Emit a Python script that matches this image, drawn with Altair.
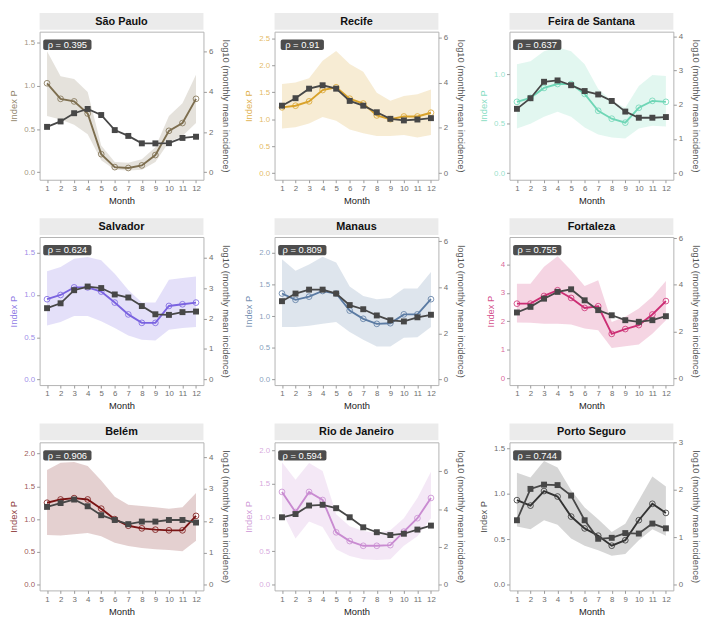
import altair as alt
import pandas as pd

MONTHS = list(range(1, 13))
CITIES = ["São Paulo", "Recife", "Feira de Santana", "Salvador", "Manaus",
          "Fortaleza", "Belém", "Rio de Janeiro", "Porto Seguro"]
RHO = ["ρ = 0.395", "ρ = 0.91", "ρ = 0.637", "ρ = 0.624", "ρ = 0.809",
       "ρ = 0.755", "ρ = 0.906", "ρ = 0.594", "ρ = 0.744"]
COLORS = ["#7d6e4f", "#d9a22a", "#6fd6b6", "#7a63e0", "#5b7ba3",
          "#cc2e74", "#7a1414", "#c98bd1", "#333333"]

# Index P (points), uncertainty band (lo/hi) and log10 monthly mean incidence
SAO_PAULO_P = [1.03, 0.85, 0.82, 0.68, 0.21, 0.06, 0.05, 0.08, 0.20, 0.48, 0.57, 0.85]
SAO_PAULO_LO = [0.65, 0.61, 0.55, 0.44, 0.14, 0.03, 0.02, 0.03, 0.12, 0.35, 0.42, 0.57]
SAO_PAULO_HI = [1.40, 1.11, 1.08, 0.93, 0.31, 0.12, 0.11, 0.15, 0.29, 0.65, 0.80, 1.13]
SAO_PAULO_INC = [2.26, 2.53, 2.94, 3.15, 2.85, 2.10, 1.81, 1.44, 1.44, 1.45, 1.71, 1.77]

RECIFE_P = [1.22, 1.25, 1.33, 1.54, 1.59, 1.38, 1.29, 1.07, 1.00, 1.05, 1.05, 1.12]
RECIFE_LO = [0.83, 0.85, 0.92, 1.04, 0.97, 0.81, 0.74, 0.69, 0.69, 0.71, 0.66, 0.71]
RECIFE_HI = [1.65, 1.68, 1.76, 2.08, 2.26, 2.02, 1.88, 1.49, 1.34, 1.43, 1.46, 1.55]
RECIFE_INC = [2.98, 3.31, 3.73, 3.88, 3.73, 3.19, 2.98, 2.69, 2.40, 2.33, 2.37, 2.43]

FEIRA_P = [0.72, 0.76, 0.86, 0.90, 0.90, 0.80, 0.63, 0.55, 0.51, 0.66, 0.73, 0.72]
FEIRA_LO = [0.45, 0.50, 0.57, 0.62, 0.57, 0.46, 0.39, 0.36, 0.35, 0.45, 0.48, 0.47]
FEIRA_HI = [1.10, 1.13, 1.23, 1.27, 1.23, 1.10, 0.85, 0.73, 0.66, 0.88, 0.99, 0.98]
FEIRA_INC = [1.88, 2.19, 2.67, 2.71, 2.57, 2.40, 2.30, 2.11, 1.80, 1.62, 1.62, 1.64]

SALVADOR_P = [0.95, 1.00, 1.09, 1.09, 1.04, 0.91, 0.77, 0.67, 0.67, 0.87, 0.89, 0.91]
SALVADOR_LO = [0.64, 0.68, 0.75, 0.75, 0.69, 0.61, 0.52, 0.47, 0.46, 0.59, 0.61, 0.62]
SALVADOR_HI = [1.28, 1.33, 1.43, 1.45, 1.41, 1.25, 1.06, 0.91, 0.91, 1.18, 1.20, 1.22]
SALVADOR_INC = [2.34, 2.50, 2.93, 3.05, 3.00, 2.79, 2.69, 2.41, 2.14, 2.12, 2.21, 2.23]

MANAUS_P = [1.36, 1.26, 1.31, 1.40, 1.36, 1.09, 0.96, 0.88, 0.89, 1.03, 1.03, 1.27]
MANAUS_LO = [0.83, 0.83, 0.85, 0.88, 0.91, 0.75, 0.63, 0.52, 0.52, 0.66, 0.67, 0.83]
MANAUS_HI = [1.90, 1.72, 1.82, 1.94, 1.85, 1.47, 1.32, 1.27, 1.29, 1.44, 1.44, 1.70]
MANAUS_INC = [3.40, 3.73, 3.90, 3.90, 3.73, 3.23, 3.05, 2.78, 2.57, 2.52, 2.70, 2.81]

FORTALEZA_P = [2.62, 2.62, 2.89, 3.09, 2.82, 2.47, 2.53, 1.56, 1.73, 1.87, 2.24, 2.71]
FORTALEZA_LO = [1.96, 1.95, 1.92, 1.92, 1.89, 1.75, 1.69, 1.07, 1.13, 1.19, 1.57, 2.04]
FORTALEZA_HI = [3.32, 3.32, 3.91, 4.28, 3.79, 3.24, 3.44, 1.98, 2.16, 2.45, 2.86, 3.41]
FORTALEZA_INC = [2.82, 3.06, 3.41, 3.70, 3.81, 3.34, 2.92, 2.70, 2.49, 2.42, 2.49, 2.66]

BELEM_P = [1.25, 1.30, 1.32, 1.30, 1.16, 1.00, 0.90, 0.86, 0.84, 0.83, 0.83, 1.05]
BELEM_LO = [0.76, 0.75, 0.77, 0.79, 0.74, 0.64, 0.59, 0.56, 0.54, 0.53, 0.51, 0.67]
BELEM_HI = [1.75, 1.86, 1.87, 1.81, 1.59, 1.34, 1.22, 1.20, 1.18, 1.16, 1.18, 1.40]
BELEM_INC = [2.44, 2.56, 2.67, 2.46, 2.18, 2.03, 1.90, 1.98, 1.98, 2.03, 2.03, 1.95]

RIO_P = [1.38, 1.08, 1.38, 1.26, 0.78, 0.65, 0.58, 0.58, 0.59, 0.79, 0.99, 1.29]
RIO_LO = [1.09, 0.69, 0.94, 0.86, 0.53, 0.43, 0.38, 0.37, 0.38, 0.58, 0.72, 0.99]
RIO_HI = [1.82, 1.56, 1.81, 1.69, 1.05, 0.87, 0.80, 0.77, 0.81, 0.99, 1.29, 1.68]
RIO_INC = [3.57, 3.74, 4.19, 4.23, 4.05, 3.57, 3.04, 2.78, 2.63, 2.70, 2.92, 3.13]

PORTO_P = [0.93, 0.87, 1.03, 0.97, 0.75, 0.62, 0.54, 0.43, 0.49, 0.71, 0.89, 0.79]
PORTO_LO = [0.64, 0.61, 0.71, 0.66, 0.51, 0.43, 0.38, 0.32, 0.34, 0.49, 0.61, 0.54]
PORTO_HI = [1.23, 1.18, 1.36, 1.29, 1.04, 0.85, 0.72, 0.58, 0.67, 0.93, 1.19, 1.08]
PORTO_INC = [1.36, 2.02, 2.11, 2.10, 1.88, 1.36, 0.97, 0.99, 1.09, 1.08, 1.29, 1.19]

P_ALL = [SAO_PAULO_P, RECIFE_P, FEIRA_P, SALVADOR_P, MANAUS_P, FORTALEZA_P, BELEM_P, RIO_P, PORTO_P]
LO_ALL = [SAO_PAULO_LO, RECIFE_LO, FEIRA_LO, SALVADOR_LO, MANAUS_LO, FORTALEZA_LO, BELEM_LO, RIO_LO, PORTO_LO]
HI_ALL = [SAO_PAULO_HI, RECIFE_HI, FEIRA_HI, SALVADOR_HI, MANAUS_HI, FORTALEZA_HI, BELEM_HI, RIO_HI, PORTO_HI]
INC_ALL = [SAO_PAULO_INC, RECIFE_INC, FEIRA_INC, SALVADOR_INC, MANAUS_INC, FORTALEZA_INC, BELEM_INC, RIO_INC, PORTO_INC]

# left (Index P) axis range and secondary-axis factor (right = left * factor)
LEFT_DOMAIN = [[-0.086, 1.627], [-0.12, 2.62], [-0.066, 1.428], [-0.066, 1.686], [-0.088, 2.253],
               [-0.233, 4.956], [-0.085, 2.17], [-0.083, 2.117], [-0.061, 1.565]]
SEC_FACTOR = [4.30, 2.383, 2.895, 2.773, 2.745, 1.22, 2.056, 3.557, 1.917]
LEFT_TICKS = [[0, 0.5, 1.0, 1.5], [0, 0.5, 1.0, 1.5, 2.0, 2.5], [0, 0.5, 1.0], [0, 0.5, 1.0, 1.5],
              [0, 0.5, 1.0, 1.5, 2.0], [0, 1, 2, 3, 4], [0, 0.5, 1.0, 1.5, 2.0],
              [0, 0.5, 1.0, 1.5, 2.0], [0, 0.5, 1.0, 1.5]]
LEFT_FORMAT = [".1f", ".1f", ".1f", ".1f", ".1f", "d", ".1f", ".1f", ".1f"]
RIGHT_TICKS = [[0, 2, 4, 6], [0, 2, 4, 6], [0, 1, 2, 3, 4], [0, 1, 2, 3, 4], [0, 2, 4, 6],
               [0, 2, 4, 6], [0, 1, 2, 3, 4], [0, 2, 4, 6], [0, 1, 2, 3]]

W = 166
H = 150
INC_COLOR = "#474747"
FONT = "Liberation Sans"


def panel(i):
    color = COLORS[i]
    df = pd.DataFrame({"month": MONTHS, "p": P_ALL[i], "lo": LO_ALL[i],
                       "hi": HI_ALL[i], "inc": INC_ALL[i]})
    lab = pd.DataFrame({"city": [CITIES[i]], "rho": [RHO[i]]})
    lo, hi = LEFT_DOMAIN[i]
    k = SEC_FACTOR[i]

    xscale = alt.Scale(domain=[0.45, 12.55], nice=False, zero=False)
    xaxis = alt.Axis(values=MONTHS, title="Month", format="d", labelOverlap=False,
                     labelFontSize=8, labelColor="#6e6e6e",
                     titleColor="#222222", titleFontSize=9.5,
                     titlePadding=3, labelPadding=2, labelFlush=False)
    xenc = alt.X("month:Q", scale=xscale, axis=xaxis)
    xdat = alt.X(datum=2.5, scale=xscale, axis=xaxis)
    lscale = alt.Scale(domain=[lo, hi], nice=False, zero=False)
    rscale = alt.Scale(domain=[lo * k, hi * k], nice=False, zero=False)

    band = alt.Chart(df).mark_area(color=color, opacity=0.2).encode(
        x=xenc,
        y=alt.Y("hi:Q", scale=lscale,
                axis=alt.Axis(orient="left", title="Index P", values=LEFT_TICKS[i],
                              format=LEFT_FORMAT[i], labelColor=color, labelOpacity=0.75,
                              titleColor=color, titleOpacity=0.85, labelFontSize=8,
                              titleFontSize=9.5, titlePadding=5, labelPadding=2)),
        y2="lo:Q")
    pline = alt.Chart(df).mark_line(color=color, strokeWidth=1.9).encode(
        x=xenc, y=alt.Y("p:Q", scale=lscale, axis=None))
    ppts = alt.Chart(df).mark_point(shape="circle", filled=False, color=color,
                                    size=34, strokeWidth=0.8, opacity=1).encode(
        x=xenc, y=alt.Y("p:Q", scale=lscale, axis=None))

    iline = alt.Chart(df).mark_line(color=INC_COLOR, strokeWidth=1.8).encode(
        x=xenc,
        y=alt.Y("inc:Q", scale=rscale,
                axis=alt.Axis(orient="right", title="log10 (monthly mean incidence)",
                              values=RIGHT_TICKS[i], format="d", labelColor="#6e6e6e",
                              titleColor="#555555", labelFontSize=8, titleFontSize=9.5,
                              titlePadding=8, labelPadding=2)))
    ipts = alt.Chart(df).mark_point(shape="square", filled=True, color=INC_COLOR,
                                    size=36, opacity=1).encode(
        x=xenc, y=alt.Y("inc:Q", scale=rscale, axis=None))

    strip = alt.Chart(lab).mark_rect(color="#ebebeb").encode(
        x=alt.value(0), x2=alt.value(W), y=alt.value(-19), y2=alt.value(-2))
    strip_txt = alt.Chart(lab).mark_text(fontSize=11, fontWeight="bold", color="#111111",
                                         baseline="middle", align="center").encode(
        x=alt.value(W / 2), y=alt.value(-10), text="city:N")
    half = (5.1 * len(RHO[i]) + 3) / 2
    rho_box = alt.Chart(lab).mark_rect(color="#4d4d4d", cornerRadius=2,
                                       xOffset=-half, x2Offset=half).encode(
        x=xdat, x2=alt.X2(datum=2.5), y=alt.value(8), y2=alt.value(18.5))
    rho_txt = alt.Chart(lab).mark_text(fontSize=9.5, color="white", align="center",
                                       baseline="middle").encode(
        x=xdat, y=alt.value(13.5), text="rho:N")

    return alt.layer(band, pline, ppts, iline, ipts, strip, strip_txt, rho_box, rho_txt).resolve_scale(
        y="independent").resolve_axis(y="independent").properties(width=W, height=H)


chart = alt.concat(*[panel(i) for i in range(9)], columns=3,
                   spacing={"row": 12, "column": 12}).properties(
    padding={"left": 0, "top": 0, "right": 0, "bottom": 0}
).configure(font=FONT).configure_view(
    stroke="#b3b3b3", strokeWidth=1
).configure_axis(
    grid=False, domain=False, tickColor="#999999", tickSize=3,
    titleFontWeight="normal"
)

chart.save("out.html", embed_options={"renderer": "svg", "actions": False})
